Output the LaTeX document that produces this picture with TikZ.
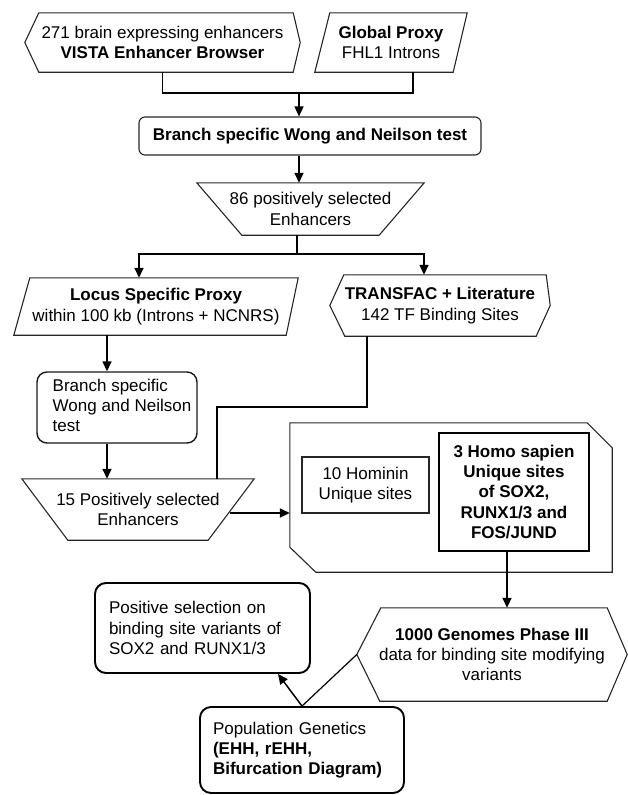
\documentclass[tikz,border=0pt]{standalone}
\usepackage{fontspec}
\setmainfont{Liberation Sans}
\usetikzlibrary{arrows.meta,calc}
\begin{document}
\begin{tikzpicture}[x=1pt,y=-1pt,
  font=\fontsize{17}{20.3}\selectfont,
  txt/.style={inner sep=0pt, align=center},
  outl/.style={line width=1.1pt, draw=black!85, line join=miter},
  rbox/.style={draw=black!85, line width=1.1pt, rounded corners=6pt, inner sep=0pt, align=center},
  lbox/.style={draw=black, line width=1.9pt, rounded corners=11pt, align=left, inner ysep=0pt},
  conn/.style={line width=1.5pt, draw=black},
  arr/.style={conn, -{Triangle[length=10pt,width=9pt]}}]
\useasboundingbox (0,0) rectangle (628,795);

% ---------- row 1
\node[txt, minimum width=275pt, minimum height=59pt] (vista) at (162.5,42.5)
  {271 brain expressing enhancers\\\textbf{VISTA Enhancer Browser}};
\draw[outl] (vista.west) -- ($(vista.north west)+(14,0)$) -- ($(vista.north east)+(-7,0)$)
  -- (vista.east) -- ($(vista.south east)+(-7,0)$) -- ($(vista.south west)+(14,0)$) -- cycle;

\node[txt, minimum width=152pt, minimum height=59pt] (glob) at (391,42.5)
  {\textbf{Global Proxy}\\FHL1 Introns};
\draw[outl] ($(glob.north west)+(15,0)$) -- (glob.north east) -- ($(glob.south east)+(-14,0)$)
  -- (glob.south west) -- cycle;

\coordinate (j1) at (299,93);
\coordinate (gs) at ([xshift=22pt]glob.south);
\draw[conn] (vista.south) |- (gs |- j1) -- (gs);

% ---------- Wong and Neilson test
\node[rbox, minimum width=342pt, minimum height=38pt] (wn) at (310,136)
  {\textbf{Branch specific Wong and Neilson test}};
\draw[arr] (j1) -- (j1 |- wn.north);

% ---------- 86 enhancers
\node[txt, minimum width=227pt, minimum height=52pt] (e86) at (310.5,209)
  {86 positively selected\\Enhancers};
\draw[outl] (e86.north west) -- (e86.north east) -- ($(e86.south east)+(-45,0)$)
  -- ($(e86.south west)+(45,0)$) -- cycle;
\draw[arr] (wn.south -| j1) -- (j1 |- e86.north);

% ---------- Locus / TRANSFAC
\node[txt, minimum width=284pt, minimum height=57pt] (locus) at (156,306.5)
  {\textbf{Locus Specific Proxy}\\within 100 kb (Introns + NCNRS)};
\draw[outl] ($(locus.north west)+(16,0)$) -- (locus.north east) -- ($(locus.south east)+(-12,0)$)
  -- (locus.south west) -- cycle;

\node[txt, minimum width=220pt, minimum height=61pt] (tf) at (440,305.5)
  {\textbf{TRANSFAC + Literature}\\142 TF Binding Sites};
\draw[outl] (tf.west) -- ($(tf.north west)+(14,0)$) -- ($(tf.north east)+(-4,0)$)
  -- (tf.east) -- ($(tf.south east)+(-14,0)$) -- ($(tf.south west)+(15,0)$) -- cycle;

\coordinate (j2) at (297,254);
\draw[conn] (e86.south -| j2) -- (j2);
\draw[arr] (j2) -| ([xshift=-17pt]locus.north);
\draw[arr] (j2) -| ([xshift=-16pt]tf.north);

% ---------- Branch specific (left)
\node[draw=black!90, line width=1.4pt, rounded corners=10pt, inner sep=0pt,
      minimum width=160pt, minimum height=71pt] (br2) at (117,407.5)
  {\hspace*{10pt}\begin{tabular}{@{}l@{}}Branch specific\\Wong and Neilson\\test\end{tabular}};
\draw[arr] ([xshift=-10pt]br2.north |- locus.south) -- ([xshift=-10pt]br2.north);

% ---------- 15 enhancers
\node[txt, minimum width=232pt, minimum height=61pt] (e15) at (138,509.5)
  {15 Positively selected\\Enhancers};
\draw[outl] (e15.north west) -- (e15.north east) -- ($(e15.south east)+(-46,0)$)
  -- ($(e15.south west)+(46,0)$) -- cycle;
\draw[arr] ([xshift=-10pt]br2.south) -- ([xshift=-10pt]br2.south |- e15.north);
\draw[conn] ([xshift=-73pt]tf.south) -- ++(0,71) -| ([xshift=79pt]e15.north);

% ---------- outer box with unique sites
\node[minimum width=322pt, minimum height=149pt, inner sep=0pt] (outer) at (451,497.5) {};
\draw[outl] (outer.north west) -- ($(outer.north east)+(-25,0)$) -- ($(outer.north east)+(0,25)$)
  -- (outer.south east) -- ($(outer.south west)+(26,0)$) -- ($(outer.south west)+(0,-25)$) -- cycle;

\node[draw=black!85, line width=1.3pt, inner sep=0pt, align=center,
      minimum width=127pt, minimum height=56pt] (hom) at (365.5,485)
  {10 Hominin\\Unique sites};
\node[draw=black, line width=1.9pt, inner sep=0pt, align=center,
      minimum width=150pt, minimum height=118pt] (homo) at (514,492)
  {\textbf{3 Homo sapien}\\\textbf{Unique sites}\\\textbf{of SOX2,}\\\textbf{RUNX1/3 and}\\\textbf{FOS/JUND}};

\coordinate (e15r) at (230,513);
\draw[arr] (e15r) -- (e15r -| outer.west);

% ---------- 1000 Genomes
\node[txt, minimum width=270pt, minimum height=93pt] (kg) at (492,654.5)
  {\textbf{1000 Genomes Phase III}\\data for binding site modifying\\variants};
\draw[outl] (kg.west) -- ($(kg.north west)+(24,0)$) -- ($(kg.north east)+(-20,0)$)
  -- (kg.east) -- ($(kg.south east)+(-20,0)$) -- ($(kg.south west)+(23,0)$) -- cycle;
\draw[arr] ([xshift=-7pt]homo.south) -- ([xshift=-7pt]homo.south |- kg.north);

% ---------- bottom boxes
\node[lbox, text width=187pt, inner xsep=14pt, minimum width=215pt, minimum height=90pt] (posel) at (202.5,628)
  {Positive selection on\\binding site variants of\\SOX2 and RUNX1/3};
\node[lbox, text width=178pt, inner xsep=13pt, minimum width=204pt, minimum height=86pt] (popgen) at (302,750)
  {Population Genetics\\\textbf{(EHH, rEHH,}\\\textbf{Bifurcation Diagram)}};

\draw[arr] (popgen.north) -- ([xshift=75.5pt]posel.south);
\draw[conn, line width=1.2pt] (popgen.north) -- (kg.west);
\end{tikzpicture}
\end{document}
